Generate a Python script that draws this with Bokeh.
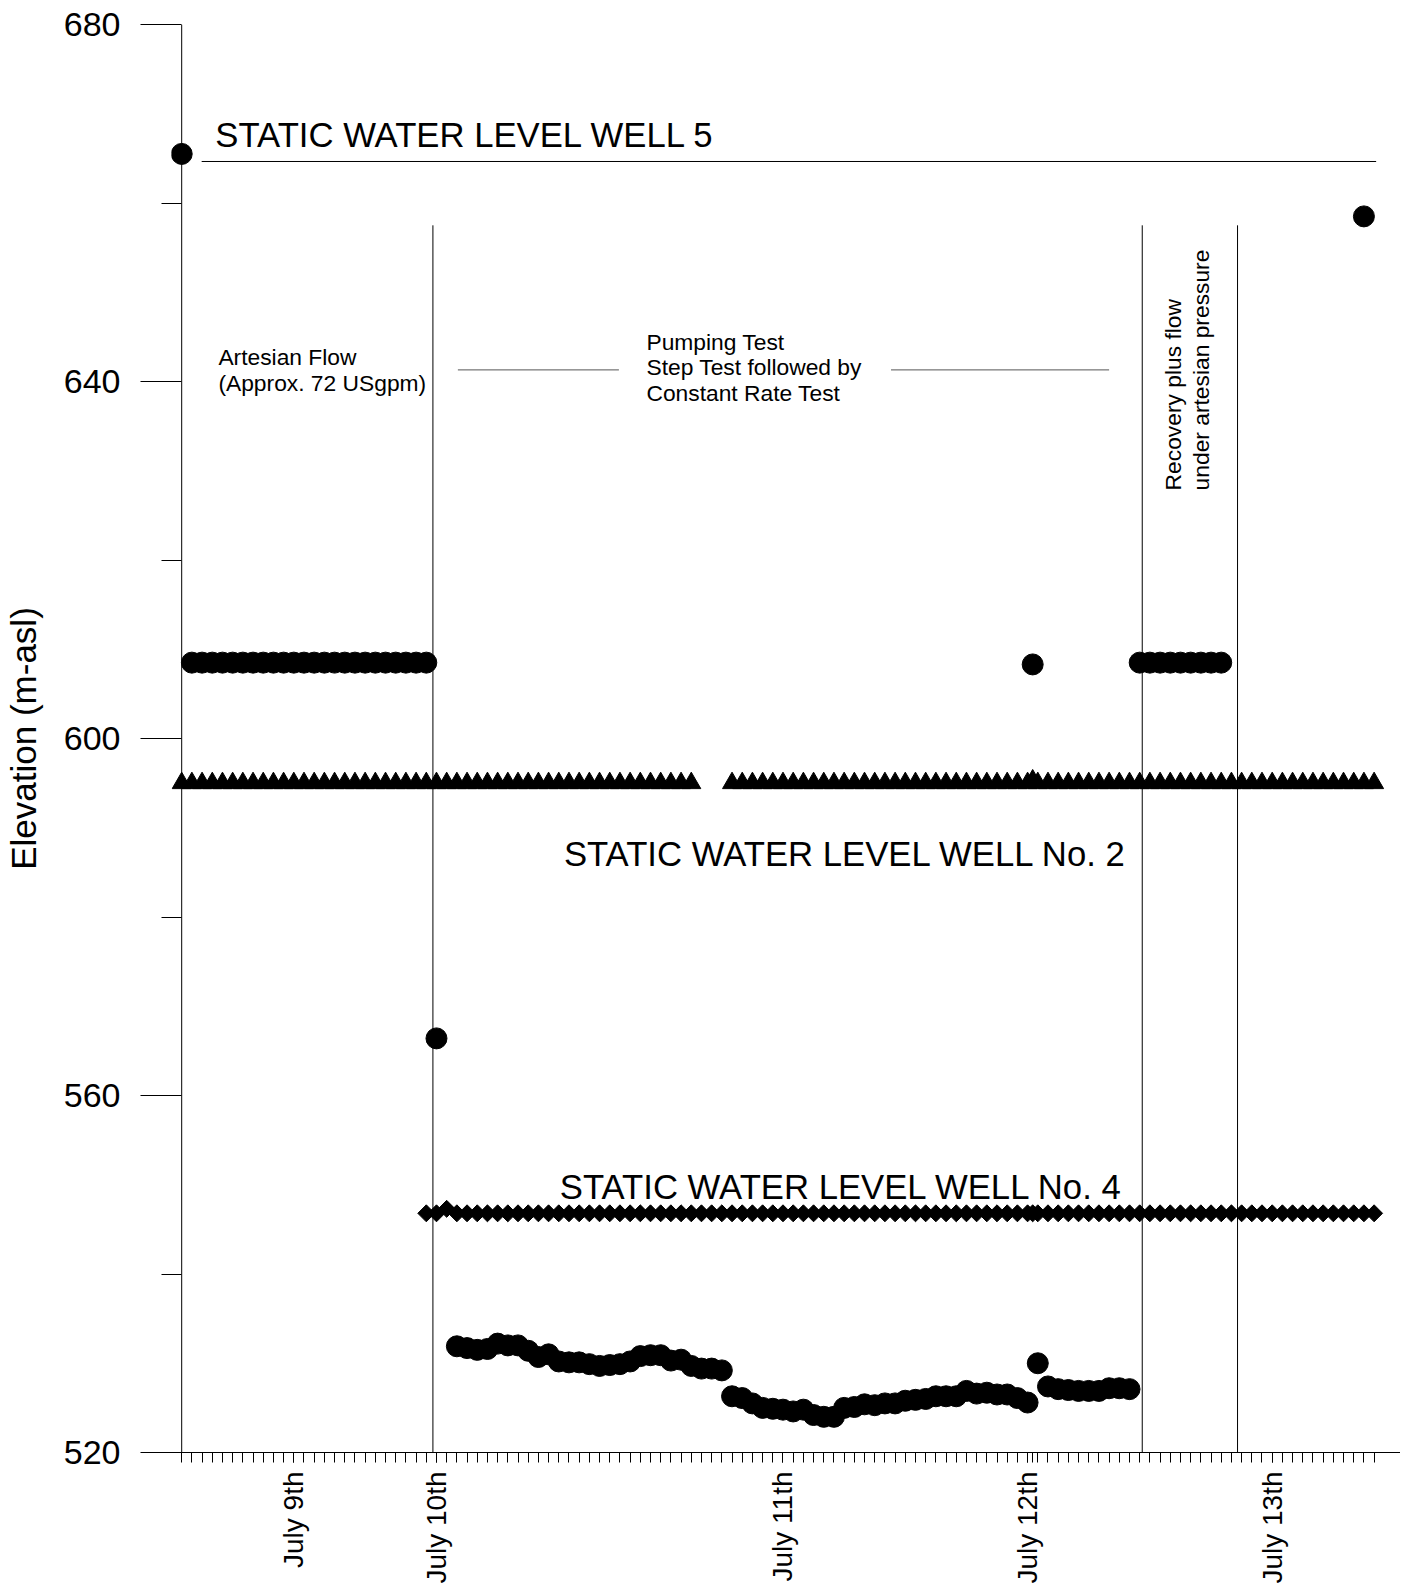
import math
import numpy as np
from bokeh.plotting import figure
from bokeh.models import FixedTicker, Span, Range1d
from bokeh.embed import file_html
from bokeh.resources import INLINE
from bokeh.core.properties import value

FONT = "Liberation Sans"

# ---------------------------------------------------------------- data
# reading positions along the (category-like) time axis; one extra reading just after July 12th
sample_pos = list(range(0, 84)) + [83.5] + list(range(84, 118))

date_ticks = [11, 25, 59, 83, 107]
date_labels = ["July 9th", "July 10th", "July 11th", "July 12th", "July 13th"]

y_major = [520, 560, 600, 640, 680]
y_minor = [540, 580, 620, 660]

N = None
# Well 5 (pumping well) water level, m-asl  (circles)
well5_elev = [
    665.5,
    608.5, 608.5, 608.5, 608.5, 608.5, 608.5, 608.5, 608.5, 608.5, 608.5,
    608.5, 608.5, 608.5, 608.5, 608.5, 608.5, 608.5, 608.5, 608.5, 608.5,
    608.5, 608.5, 608.5, 608.5,
    566.4, N,
    531.9, 531.7, 531.5, 531.6, 532.2, 532.0, 532.0, 531.4, 530.7, 531.0,
    530.2, 530.1, 530.1, 529.9, 529.7, 529.8, 529.9, 530.2, 530.8, 530.9,
    530.9, 530.3, 530.4, 529.7, 529.4, 529.4, 529.2,
    526.3, 526.1, 525.5, 525.0, 524.9, 524.8, 524.6, 524.8, 524.2, 524.0,
    524.0, 525.0, 525.1, 525.4, 525.3, 525.5, 525.5, 525.8, 525.9, 526.0,
    526.3, 526.3, 526.3, 526.9, 526.6, 526.7, 526.5, 526.5, 526.1, 525.6,
    608.3,
    530.0,
    527.4, 527.1, 527.0, 526.9, 526.9, 526.9, 527.2, 527.2, 527.1,
    608.5, 608.5, 608.5, 608.5, 608.5, 608.5, 608.5, 608.5, 608.5,
    N, N, N, N, N, N, N, N, N, N, N, N, N,
    658.5, N,
]

# Well No. 2 water level (triangles)
well2_elev = [
    595.0, 595.0, 595.0, 595.0, 595.0, 595.0, 595.0, 595.0, 595.0, 595.0,
    595.0, 595.0, 595.0, 595.0, 595.0, 595.0, 595.0, 595.0, 595.0, 595.0,
    595.0, 595.0, 595.0, 595.0, 595.0, 595.0, 595.0, 595.0, 595.0, 595.0,
    595.0, 595.0, 595.0, 595.0, 595.0, 595.0, 595.0, 595.0, 595.0, 595.0,
    595.0, 595.0, 595.0, 595.0, 595.0, 595.0, 595.0, 595.0, 595.0, 595.0,
    595.0, N, N, N,
    595.0, 595.0, 595.0, 595.0, 595.0, 595.0, 595.0, 595.0, 595.0, 595.0,
    595.0, 595.0, 595.0, 595.0, 595.0, 595.0, 595.0, 595.0, 595.0, 595.0,
    595.0, 595.0, 595.0, 595.0, 595.0, 595.0, 595.0, 595.0, 595.0, 595.0,
    595.3,
    595.0, 595.0, 595.0, 595.0, 595.0, 595.0, 595.0, 595.0, 595.0, 595.0,
    595.0, 595.0, 595.0, 595.0, 595.0, 595.0, 595.0, 595.0, 595.0, 595.0,
    595.0, 595.0, 595.0, 595.0, 595.0, 595.0, 595.0, 595.0, 595.0, 595.0,
    595.0, 595.0, 595.0, 595.0,
]

# Well No. 4 water level (diamonds)
well4_elev = [
    N, N, N, N, N, N, N, N, N, N, N, N, N, N, N, N, N, N, N, N, N, N, N, N,
    546.8, 546.8, 547.3,
    546.8, 546.8, 546.8, 546.8, 546.8, 546.8, 546.8, 546.8, 546.8, 546.8,
    546.8, 546.8, 546.8, 546.8, 546.8, 546.8, 546.8, 546.8, 546.8, 546.8,
    546.8, 546.8, 546.8, 546.8, 546.8, 546.8, 546.8, 546.8, 546.8, 546.8,
    546.8, 546.8, 546.8, 546.8, 546.8, 546.8, 546.8, 546.8, 546.8, 546.8,
    546.8, 546.8, 546.8, 546.8, 546.8, 546.8, 546.8, 546.8, 546.8, 546.8,
    546.8, 546.8, 546.8, 546.8, 546.8, 546.8, 546.8,
    546.8,
    546.8, 546.8, 546.8, 546.8, 546.8, 546.8, 546.8, 546.8, 546.8, 546.8,
    546.8, 546.8, 546.8, 546.8, 546.8, 546.8, 546.8, 546.8, 546.8, 546.8,
    546.8, 546.8, 546.8, 546.8, 546.8, 546.8, 546.8, 546.8, 546.8, 546.8,
    546.8, 546.8, 546.8, 546.8,
]

# event (phase boundary) lines and reference lines
event_pos = [24.65, 94.25, 103.6]
event_top = 657.5
static5_level = 664.65
static5_span = [1.96, 117.2]
pump_line_level = 641.3
pump_line_x0 = [27.1, 69.6]
pump_line_x1 = [42.9, 91.0]

# big labels
big_text = ["STATIC WATER LEVEL WELL 5", "STATIC WATER LEVEL WELL No. 2",
            "STATIC WATER LEVEL WELL No. 4"]
big_x = [3.3, 37.5, 37.1]
big_y = [667.6, 587.05, 549.75]

# phase notes
note_text = ["Artesian Flow", "(Approx. 72 USgpm)",
             "Pumping Test", "Step Test followed by", "Constant Rate Test"]
note_x = [3.6, 3.6, 45.6, 45.6, 45.6]
note_y = [642.74, 639.78, 644.4, 641.6, 638.76]

vnote_text = ["Recovery plus flow", "under artesian pressure"]
vnote_x = [97.3, 100.0]
vnote_y = [627.8, 627.8]


def arr(v):
    return np.array([np.nan if a is None else a for a in v], dtype=float)


# ---------------------------------------------------------------- figure
p = figure(width=1400, height=1586,
           x_range=Range1d(-1, 119.59), y_range=Range1d(520, 680),
           output_backend="svg", toolbar_location=None,
           min_border_left=170, min_border_top=24, min_border_right=0,
           min_border_bottom=0)
p.grid.visible = False
p.outline_line_color = None
p.background_fill_color = "white"
p.border_fill_color = "white"

# x axis
xa = p.xaxis[0]
xa.ticker = FixedTicker(ticks=date_ticks, minor_ticks=sample_pos)
xa.major_label_overrides = {t: l for t, l in zip(date_ticks, date_labels)}
xa.major_label_orientation = math.pi / 2
xa.major_tick_out = 10
xa.major_tick_in = 0
xa.minor_tick_out = 10
xa.minor_tick_in = 0
xa.major_label_standoff = 9
xa.major_label_text_font = FONT
xa.major_label_text_font_size = "28px"
xa.major_label_text_color = "black"
xa.axis_line_color = "black"
xa.major_tick_line_color = "black"
xa.minor_tick_line_color = "black"

# y axis
ya = p.yaxis[0]
ya.ticker = FixedTicker(ticks=y_major, minor_ticks=y_minor)
ya.major_tick_out = 31
ya.major_tick_in = 10
ya.minor_tick_out = 10
ya.minor_tick_in = 10
ya.axis_line_color = None
ya.major_tick_line_color = "black"
ya.minor_tick_line_color = "black"
ya.major_label_standoff = 20
ya.major_label_text_font = FONT
ya.major_label_text_font_size = "34px"
ya.major_label_text_color = "black"
ya.axis_label = "Elevation (m-asl)"
ya.axis_label_text_font = FONT
ya.axis_label_text_font_size = "35px"
ya.axis_label_text_font_style = "normal"
ya.axis_label_text_color = "black"
ya.axis_label_standoff = 18

# y axis line drawn at the first reading
p.add_layout(Span(location=0, dimension="height", line_color="black", line_width=1))

# reference lines
p.segment(x0=event_pos, y0=[520] * len(event_pos), x1=event_pos,
          y1=[event_top] * len(event_pos), line_color="black", line_width=1)
p.segment(x0=[static5_span[0]], y0=[static5_level], x1=[static5_span[1]],
          y1=[static5_level], line_color="black", line_width=1)
p.segment(x0=pump_line_x0, y0=[pump_line_level] * 2, x1=pump_line_x1,
          y1=[pump_line_level] * 2, line_color="#555555", line_width=1)

# data
xs = np.array(sample_pos, dtype=float)
p.scatter(xs, arr(well2_elev), marker="triangle", size=19,
          fill_color="black", line_color="black")
p.scatter(xs, arr(well4_elev), marker="square", angle=math.pi / 4, size=12,
          fill_color="black", line_color="black")
p.scatter(xs, arr(well5_elev), marker="circle", size=21,
          fill_color="black", line_color="black")

# texts
p.text(x=big_x, y=big_y, text=big_text, text_font=value(FONT),
       text_font_size=value("34.7px"), text_color="black",
       text_align="left", text_baseline="alphabetic")
p.text(x=note_x, y=note_y, text=note_text, text_font=value(FONT),
       text_font_size=value("22.8px"), text_color="black",
       text_align="left", text_baseline="alphabetic")
p.text(x=vnote_x, y=vnote_y, text=vnote_text, text_font=value(FONT),
       text_font_size=value("22.8px"), text_color="black", angle=math.pi / 2,
       text_align="left", text_baseline="alphabetic")

open("out.html", "w").write(file_html(p, INLINE))
